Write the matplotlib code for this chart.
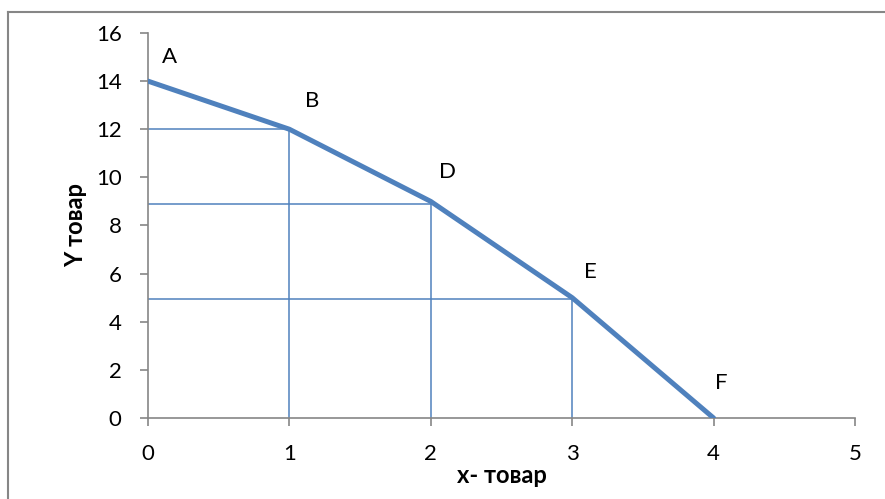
import matplotlib.pyplot as plt
from matplotlib.lines import Line2D

# production possibilities frontier
x_goods = [0, 1, 2, 3, 4]
y_goods = [14, 12, 9, 5, 0]
point_names = ['A', 'B', 'D', 'E', 'F']

# helper guide lines (x, y of the corner point)
guide_x = [1, 2, 3]
guide_y = [12, 8.9, 4.95]

x_ticks = [0, 1, 2, 3, 4, 5]
y_ticks = [0, 2, 4, 6, 8, 10, 12, 14, 16]

blue = '#4F81BD'
gray = '#868686'

plt.rcParams['font.family'] = ['Lato', 'DejaVu Sans']

fig = plt.figure(figsize=(8.85, 4.99), dpi=100)
ax = fig.add_axes([0.1672, 0.1623, 0.7989, 0.7716])

for gx, gy in zip(guide_x, guide_y):
    ax.plot([0, gx], [gy, gy], color=blue, lw=1.1, zorder=2)
    ax.plot([gx, gx], [0, gy], color=blue, lw=1.1, zorder=2)

ax.plot(x_goods, y_goods, color=blue, lw=3.6, solid_capstyle='round',
        solid_joinstyle='round', zorder=3)

# label offsets in pixels from each point
offsets = [(22, 24), (23, 28), (17, 29), (18, 26), (8, 35)]
for name, px, py, off in zip(point_names, x_goods, y_goods, offsets):
    ax.annotate(name, (px, py), xytext=(off[0] * 0.72, off[1] * 0.72),
                textcoords='offset points', ha='center', va='center',
                fontsize=16, color='black')

ax.set_xlim(0, 5)
ax.set_ylim(0, 16)
ax.set_xticks(x_ticks)
ax.set_yticks(y_ticks)

for side in ['top', 'right']:
    ax.spines[side].set_visible(False)
for side in ['left', 'bottom']:
    ax.spines[side].set_color(gray)
    ax.spines[side].set_linewidth(1.2)

ax.tick_params(axis='both', colors=gray, labelcolor='black', length=6,
               width=1.2, labelsize=16, direction='out')
ax.tick_params(axis='x', pad=13)
ax.tick_params(axis='y', pad=13)

ax.set_xlabel('x- товар', fontsize=17, fontweight='bold', labelpad=0)
ax.set_ylabel('Y товар', fontsize=17, fontweight='bold', labelpad=6)

# outer chart border
fig.add_artist(Line2D([8 / 885, 1], [1 - 12 / 499, 1 - 12 / 499],
                      color=gray, lw=1.5, transform=fig.transFigure))
fig.add_artist(Line2D([8 / 885, 8 / 885], [0, 1 - 12 / 499],
                      color=gray, lw=1.5, transform=fig.transFigure))

fig.savefig('out.png', dpi=100)
